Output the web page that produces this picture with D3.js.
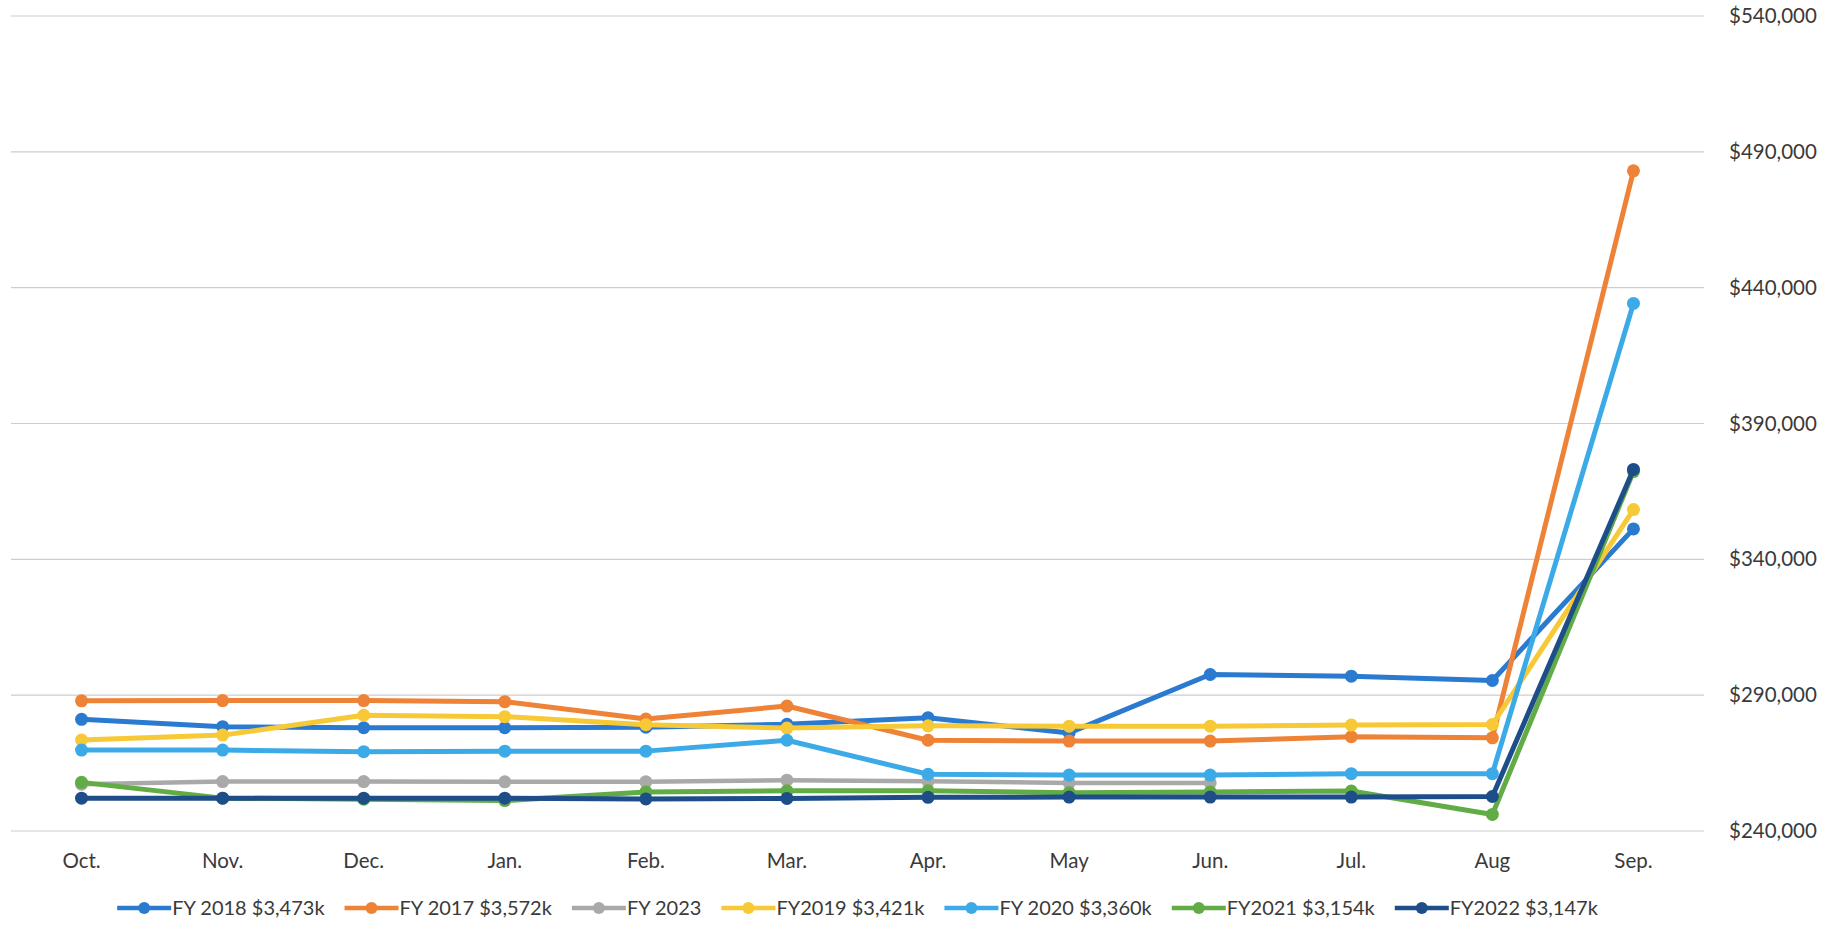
<!DOCTYPE html>
<html>
<head>
<meta charset="utf-8">
<script src="https://cdn.jsdelivr.net/npm/d3@7"></script>
<style>
  body { margin: 0; background: #fff; }
  text { font-family: Lato, "Open Sans", sans-serif; fill: #3a3a3a; }
</style>
</head>
<body>
<div class="chart"></div>
<script>
// months of the fiscal year
var months = ["Oct.", "Nov.", "Dec.", "Jan.", "Feb.", "Mar.", "Apr.", "May", "Jun.", "Jul.", "Aug", "Sep."];

// monthly values per fiscal year
var fy2018 = [281100, 278400, 278000, 278000, 278200, 279300, 281700, 276100, 297600, 297000, 295400, 351200];
var fy2017 = [287900, 288000, 288000, 287600, 281200, 286000, 273400, 273100, 273100, 274700, 274300, 483000];
var fy2023 = [257200, 258200, 258200, 258100, 258100, 258700, 258300, 257700, 257700];
var fy2019 = [273500, 275300, 282600, 282100, 279100, 277900, 278700, 278600, 278600, 279000, 279200, 358300];
var fy2020 = [269800, 269800, 269200, 269400, 269400, 273400, 260900, 260600, 260600, 261100, 261100, 434200];
var fy2021 = [257900, 252100, 251700, 251200, 254400, 254800, 254800, 254100, 254400, 254700, 246100, 372300];
var fy2022 = [252100, 252100, 252100, 252100, 251800, 252000, 252400, 252500, 252500, 252500, 252700, 373100];

var seriesNames = ["FY 2018 $3,473k", "FY 2017 $3,572k", "FY 2023", "FY2019 $3,421k", "FY 2020 $3,360k", "FY2021 $3,154k", "FY2022 $3,147k"];
var seriesValues = [fy2018, fy2017, fy2023, fy2019, fy2020, fy2021, fy2022];
var seriesColors = ["#2a7bcf", "#ee8236", "#a9a9a9", "#f7c936", "#3daae8", "#62ac45", "#1d4e89"];

var yTicks = [240000, 290000, 340000, 390000, 440000, 490000, 540000];

var svgWidth = 1834;
var svgHeight = 943;

var plot = { left: 11, right: 1704, top: 16, bottom: 831 };

var svg = d3.select(".chart")
  .append("svg")
  .attr("width", svgWidth)
  .attr("height", svgHeight);

// scales
var xScale = d3.scaleBand()
  .domain(months)
  .range([plot.left, plot.right]);

var yScale = d3.scaleLinear()
  .domain([240000, 540000])
  .range([plot.bottom, plot.top]);

var xPos = function(i) { return xScale(months[i]) + xScale.bandwidth() / 2; };

// gridlines
svg.append("g")
  .selectAll("line")
  .data(yTicks)
  .enter()
  .append("line")
  .attr("x1", plot.left)
  .attr("x2", plot.right)
  .attr("y1", d => yScale(d))
  .attr("y2", d => yScale(d))
  .attr("stroke", "#cdcdcd")
  .attr("stroke-width", 1.2);

// right axis labels
var rightAxis = d3.axisRight(yScale)
  .tickValues(yTicks)
  .tickSize(0)
  .tickPadding(0)
  .tickFormat(d => "$" + d3.format(",")(d));

svg.append("g")
  .attr("transform", "translate(1729,0)")
  .call(rightAxis)
  .call(g => g.select(".domain").remove())
  .selectAll("text")
  .style("font-size", "20.5px")
  .style("font-family", "Lato, sans-serif")
  .attr("fill", "#3a3a3a");

// bottom axis labels
var bottomAxis = d3.axisBottom(xScale)
  .tickSize(0)
  .tickPadding(0);

svg.append("g")
  .attr("transform", "translate(0,853)")
  .call(bottomAxis)
  .call(g => g.select(".domain").remove())
  .selectAll("text")
  .style("font-size", "20.5px")
  .style("font-family", "Lato, sans-serif")
  .attr("fill", "#3a3a3a");

// lines + markers, drawn in legend order
var line = d3.line()
  .x((d, i) => xPos(i))
  .y(d => yScale(d));

seriesValues.forEach(function(vals, s) {
  var g = svg.append("g");
  g.append("path")
    .datum(vals)
    .attr("d", line)
    .attr("fill", "none")
    .attr("stroke", seriesColors[s])
    .attr("stroke-width", s == 2 ? 4.5 : 5)
    .attr("stroke-linejoin", "round");
  g.selectAll("circle")
    .data(vals)
    .enter()
    .append("circle")
    .attr("cx", (d, i) => xPos(i))
    .attr("cy", d => yScale(d))
    .attr("r", 6.5)
    .attr("fill", seriesColors[s]);
});

// legend
var legend = svg.append("g");
var lx = 0;
seriesNames.forEach(function(name, s) {
  var item = legend.append("g").attr("transform", "translate(" + lx + ",0)");
  item.append("line")
    .attr("x1", 0).attr("x2", 54)
    .attr("y1", 0).attr("y2", 0)
    .attr("stroke", seriesColors[s])
    .attr("stroke-width", 4.5);
  item.append("circle")
    .attr("cx", 27).attr("cy", 0).attr("r", 6)
    .attr("fill", seriesColors[s]);
  var t = item.append("text")
    .attr("x", 55)
    .attr("y", 0)
    .attr("dy", "0.35em")
    .style("font-size", "20px")
    .text(name);
  lx += 55 + t.node().getComputedTextLength() + 20;
});
lx -= 20;
legend.attr("transform", "translate(" + ((plot.left + plot.right) / 2 - lx / 2) + ",908)");
</script>
</body>
</html>
